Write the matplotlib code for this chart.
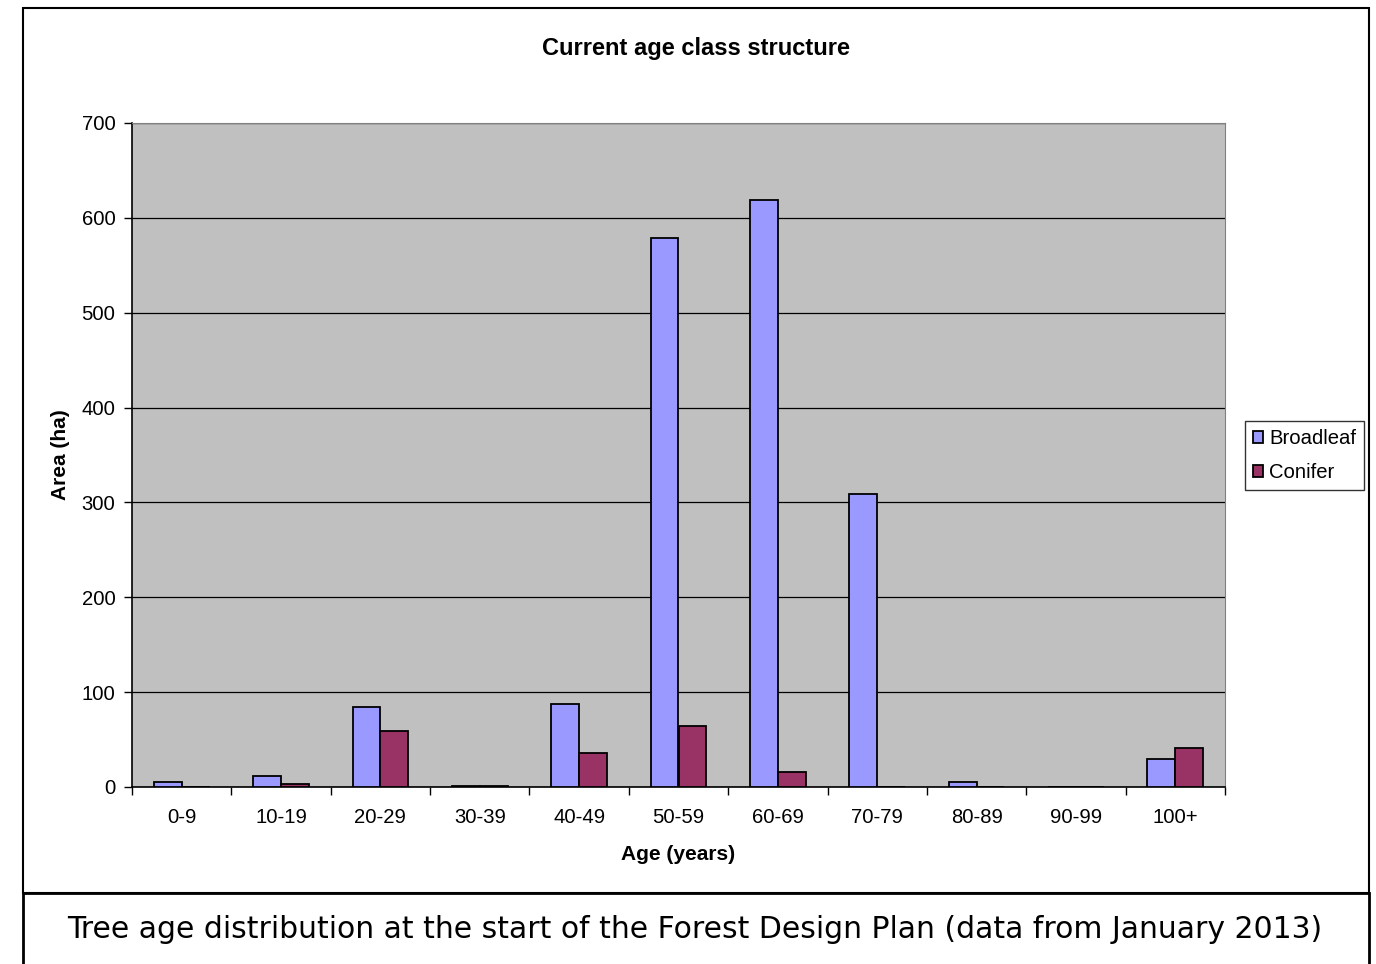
import numpy as np
import matplotlib.pyplot as plt
from matplotlib.patches import Rectangle

categories = ["0-9", "10-19", "20-29", "30-39", "40-49", "50-59",
              "60-69", "70-79", "80-89", "90-99", "100+"]
broadleaf = [5, 12, 84, 1, 88, 579, 619, 309, 5, 0, 29]
conifer = [0, 3, 59, 1, 36, 64, 16, 0, 0, 0, 41]
y_ticks = [0, 100, 200, 300, 400, 500, 600, 700]

W, H = 1376, 964
fig = plt.figure(figsize=(W / 100, H / 100), dpi=100)
plt.rcParams['font.family'] = ['Liberation Sans', 'DejaVu Sans']


def fx(px):
    return px / W


def fy(py):
    return 1 - py / H


# outer chart frame and caption box
fig.add_artist(Rectangle((fx(23), fy(893)), fx(1369) - fx(23), fy(8) - fy(893),
                         transform=fig.transFigure, fill=False, lw=1.5, ec="black"))
fig.add_artist(Rectangle((fx(23), fy(990)), fx(1369) - fx(23), fy(893) - fy(990),
                         transform=fig.transFigure, fill=False, lw=2, ec="black",
                         clip_on=False))

ax = fig.add_axes([fx(132), fy(787), fx(1225) - fx(132), fy(123) - fy(787)])
ax.set_facecolor("#C0C0C0")

x = np.arange(len(categories))
w = 0.28
ax.bar(x - w, broadleaf, w, align="edge", color="#9999FF", ec="black", lw=1.3,
       label="Broadleaf", zorder=3)
ax.bar(x, conifer, w, align="edge", color="#993366", ec="black", lw=1.3,
       label="Conifer", zorder=3)

ax.set_xlim(-0.5, len(categories) - 0.5)
ax.set_ylim(0, 700)
ax.set_yticks(y_ticks)
ax.set_yticklabels([str(v) for v in y_ticks], fontsize=14.6)
ax.set_xticks(x)
ax.set_xticklabels(categories, fontsize=14.6)
ax.set_xticks(np.arange(-0.5, len(categories)), minor=True)
ax.tick_params(axis="x", which="major", length=0, pad=15)
ax.tick_params(axis="x", which="minor", length=6, width=1, direction="out")
ax.tick_params(axis="y", length=6, width=1, pad=6)
ax.grid(axis="y", color="black", lw=0.9, zorder=1)
ax.set_axisbelow(True)

for s in ["top", "right"]:
    ax.spines[s].set_color("#808080")
for s in ["left", "bottom"]:
    ax.spines[s].set_color("black")
    ax.spines[s].set_linewidth(1.2)

ax.set_xlabel("Age (years)", fontsize=15, fontweight="bold", labelpad=13)
ax.set_ylabel("Area (ha)", fontsize=15, fontweight="bold", labelpad=8)

fig.text(fx(696), fy(48), "Current age class structure", fontsize=17,
         fontweight="bold", ha="center", va="center")

leg = ax.legend(loc="upper left", bbox_to_anchor=(fx(1245), fy(421)),
                bbox_transform=fig.transFigure, fontsize=14.6, frameon=True,
                fancybox=False, edgecolor="black", handlelength=0.5,
                handleheight=0.5, handletextpad=0.3, borderpad=0.4,
                labelspacing=0.75, borderaxespad=0)
leg.get_frame().set_linewidth(1)

fig.text(fx(695), fy(929),
         "Tree age distribution at the start of the Forest Design Plan (data from January 2013)",
         fontsize=21.5, family="DejaVu Sans", ha="center", va="center")

fig.savefig("out.png", dpi=100)
